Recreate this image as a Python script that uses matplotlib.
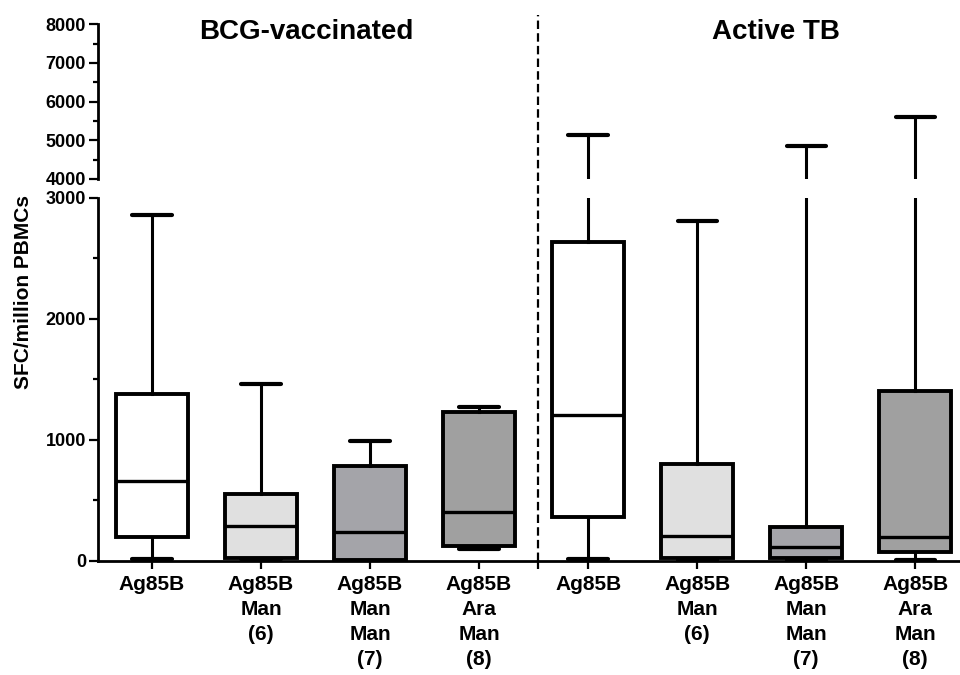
import matplotlib
matplotlib.use("Agg")
import matplotlib.pyplot as plt
import matplotlib.transforms as mtransforms

plt.rcParams['font.family'] = ['Liberation Sans', 'DejaVu Sans']
plt.rcParams['font.weight'] = 'bold'

# data
labels = ["Ag85B", "Ag85B\nMan\n(6)", "Ag85B\nMan\nMan\n(7)", "Ag85B\nAra\nMan\n(8)"] * 2
whislo = [17, 15, 0, 97, 17, 10, 5, 8]
q1 = [201, 27, 5, 121, 366, 22, 27, 77]
med = [661, 292, 242, 403, 1208, 207, 118, 201]
q3 = [1376, 554, 788, 1230, 2636, 802, 284, 1400]
whishi = [2857, 1464, 993, 1268, 5137, 2806, 4860, 5610]
fills = ["#ffffff", "#e0e0e0", "#a4a4a9", "#a0a0a0"] * 2
groups = ["BCG-vaccinated", "Active TB"]

positions = list(range(1, 9))
divider = 4.54

stats = []
for i in range(8):
    stats.append(dict(whislo=whislo[i], q1=q1[i], med=med[i], q3=q3[i],
                      whishi=whishi[i], fliers=[], label=labels[i]))

fig = plt.figure(figsize=(9.6, 6.75), dpi=100)
ax_lo = fig.add_axes([0.102, 0.169, 0.898, 0.538])
ax_hi = fig.add_axes([0.102, 0.735, 0.898, 0.229])
# lower panel on top so the divider can run through the upper one
ax_lo.set_zorder(2)
ax_lo.patch.set_alpha(0)
ax_hi.patch.set_alpha(0)

for ax in (ax_lo, ax_hi):
    bp = ax.bxp(stats, positions=positions, widths=0.66, patch_artist=True,
                showfliers=False,
                boxprops=dict(linewidth=2.8, edgecolor='black'),
                whiskerprops=dict(linewidth=2.2, color='black'),
                capprops=dict(linewidth=3, color='black', solid_capstyle='round'),
                medianprops=dict(linewidth=2.4, color='black'),
                capwidths=0.36)
    for patch, c in zip(bp['boxes'], fills):
        patch.set_facecolor(c)
    ax.set_xlim(0.505, 8.41)
    for s in ('top', 'right'):
        ax.spines[s].set_visible(False)
    ax.spines['left'].set_linewidth(2)
    ax.tick_params(axis='y', which='major', length=6.5, width=1.6, pad=2, labelsize=13)
    ax.tick_params(axis='y', which='minor', length=3.5, width=1.6)

ax_lo.set_ylim(0, 3000)
ax_lo.set_yticks([0, 1000, 2000, 3000])
ax_lo.set_yticks([500, 1500, 2500], minor=True)
ax_lo.spines['bottom'].set_linewidth(2)
ax_lo.set_xticks(positions + [divider])
ax_lo.set_xticklabels(labels + [""])
ax_lo.tick_params(axis='x', length=6, width=1.6, pad=4, labelsize=15)
for t in ax_lo.get_xticklabels():
    t.set_linespacing(1.4)
    t.set_fontweight('bold')

ax_hi.set_ylim(4000, 8000)
ax_hi.set_yticks([4000, 5000, 6000, 7000, 8000])
ax_hi.set_yticks([4500, 5500, 6500, 7500], minor=True)
ax_hi.spines['bottom'].set_visible(False)
ax_hi.set_xticks([])

for ax in (ax_lo, ax_hi):
    for t in ax.get_yticklabels():
        t.set_fontweight('bold')

# dashed divider running through both panels
trans = mtransforms.blended_transform_factory(ax_lo.transData, ax_lo.transAxes)
ax_lo.plot([divider, divider], [0, 1.504], transform=trans, color='black',
           linewidth=1.6, dashes=(3.8, 1.9), clip_on=False)

# group titles
ttrans = mtransforms.blended_transform_factory(ax_hi.transData, ax_hi.transAxes)
ax_hi.text(2.42, 0.95, groups[0], transform=ttrans,
           ha='center', va='center', fontsize=20, fontweight='bold')
ax_hi.text(6.72, 0.95, groups[1], transform=ttrans,
           ha='center', va='center', fontsize=20, fontweight='bold')

fig.text(0.025, 0.568, "SFC/million PBMCs", rotation=90, ha='center', va='center',
         fontsize=15, fontweight='bold')

fig.savefig("out.png", dpi=100)
